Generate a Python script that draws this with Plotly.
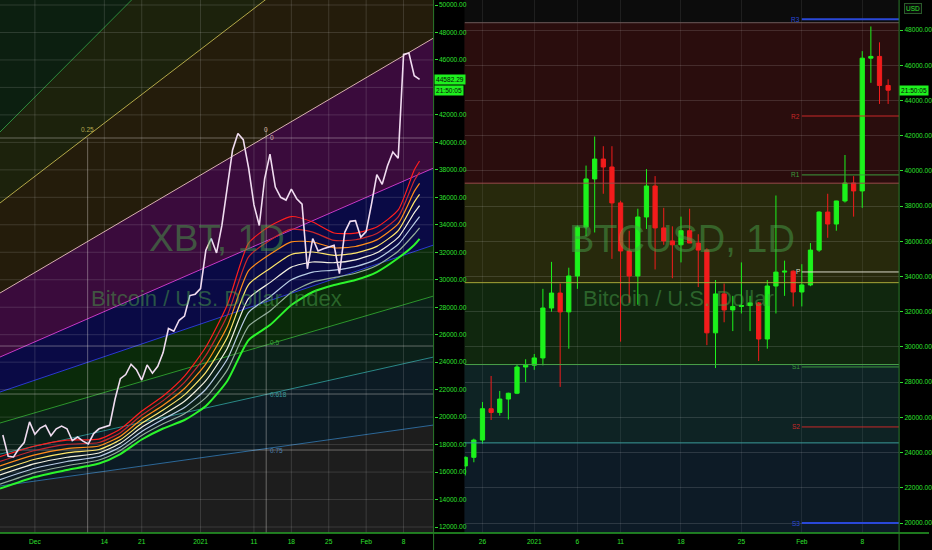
import plotly.graph_objects as go
import pandas as pd

# ---------------- LEFT PANEL : XBT index (daily closes) ----------------
xbt_dates = pd.date_range("2020-11-25", "2021-02-11", freq="D")
xbt_close = [
    18700, 17150, 17100, 17700, 18150, 19650,
    18750, 19200, 19400, 18650, 19150, 19350, 19150, 18300, 18550, 18250, 18050, 18800, 19150, 19250,
    19400, 21300, 22800, 23100, 23850, 23450, 22700, 23800, 23200, 23700, 24700, 26450, 26250, 27050,
    27350, 28850, 28950,
    29350, 32150, 33000, 31950, 33950, 36800, 39450, 40650, 40200, 38150, 35450, 33950, 37350, 39150,
    36750, 36000, 35800, 36600, 35900, 35500, 30800, 33000, 32100, 32250, 32400, 32500, 30450, 33450,
    34250, 34300, 33100,
    33500, 35500, 37650, 36950, 38300, 39300, 38850, 46400, 46500, 44850, 44582.29,
]

ribbon_dates = ["2020-11-24 11:00", "2020-12-01", "2020-12-07", "2020-12-13", "2020-12-17", "2020-12-21",
                "2020-12-25", "2020-12-29", "2021-01-02", "2021-01-06", "2021-01-10", "2021-01-14",
                "2021-01-18", "2021-01-22", "2021-01-26", "2021-01-30", "2021-02-03", "2021-02-07",
                "2021-02-10", "2021-02-11"]
ribbon_1 = [17120, 17900, 18330, 18400, 19130, 20440, 21540, 22990, 25100, 28160, 32670, 33910, 34600, 34200, 33400, 33400, 33840, 35080, 37990, 38640]
ribbon_2 = [16780, 17570, 18020, 18150, 18870, 20150, 21200, 22530, 24490, 27370, 31670, 32880, 33680, 33470, 32860, 32910, 33370, 34580, 37210, 37830]
ribbon_3 = [16450, 17250, 17710, 17900, 18610, 19850, 20860, 22080, 23880, 26580, 30660, 31850, 32760, 32750, 32320, 32420, 32900, 34080, 36430, 37020]
ribbon_4 = [16120, 16930, 17400, 17640, 18350, 19550, 20520, 21620, 23260, 25790, 29650, 30820, 31840, 32020, 31780, 31940, 32430, 33580, 35650, 36210]
ribbon_5 = [15790, 16610, 17080, 17390, 18090, 19260, 20180, 21160, 22650, 25000, 28640, 29790, 30920, 31290, 31240, 31450, 31970, 33080, 34870, 35400]
ribbon_6 = [15450, 16280, 16770, 17130, 17830, 18960, 19850, 20700, 22030, 24210, 27630, 28760, 30000, 30560, 30700, 30960, 31500, 32580, 34090, 34590]
ribbon_7 = [15120, 15960, 16460, 16880, 17570, 18660, 19510, 20250, 21420, 23420, 26620, 27730, 29080, 29830, 30160, 30470, 31030, 32080, 33310, 33780]
ribbon_8 = [14790, 15640, 16150, 16620, 17310, 18370, 19170, 19790, 20810, 22630, 25610, 26700, 28160, 29110, 29620, 29980, 30560, 31580, 32530, 32970]
ribbon_colors = ["#ff1e1e", "#c8282d", "#ff8c1a", "#ffe66b", "#f2f0e0", "#b8cce4", "#94ae9c", "#2cf52c"]

# fan (speed resistance) lines: value at left edge / right edge
fan_x = ["2020-11-24 11:17", "2021-02-13 15:00"]
fan_top_green = [40754, 72422]
fan_025 = [35586, 59755]
fan_0 = [29034, 47598]
fan_magenta = [24374, 38134]
fan_blue = [21826, 32528]
fan_05 = [19570, 28815]
fan_0618 = [17313, 24374]
fan_075 = [14983, 19424]
fan_level_prices = [40318, 25175, 21681, 17604]
fan_vertical_dates = ["2020-12-10 21:00", "2021-01-13 07:00"]
fan_vertical_tops = [40300, 41000]

left_price_ticks = [12000, 14000, 16000, 18000, 20000, 22000, 24000, 26000, 28000, 30000, 32000,
                    34000, 36000, 38000, 40000, 42000, 44000, 46000, 48000, 50000]
# 44000 label is hidden behind the last-price box in the reference
left_price_labels = ["12000.00", "14000.00", "16000.00", "18000.00", "20000.00", "22000.00", "24000.00",
                     "26000.00", "28000.00", "30000.00", "32000.00", "34000.00", "36000.00", "38000.00",
                     "40000.00", "42000.00", "", "46000.00", "48000.00", "50000.00"]
left_date_ticks = ["2020-12-01", "2020-12-14", "2020-12-21", "2021-01-01", "2021-01-11",
                   "2021-01-18", "2021-01-25", "2021-02-01", "2021-02-08"]
left_date_labels = ["Dec", "14", "21", "2021", "11", "18", "25", "Feb", "8"]

# ---------------- RIGHT PANEL : BTCUSD daily candles ----------------
candle_dates = pd.date_range("2020-12-24", "2021-02-11", freq="D")
btc_open = [23240, 23730, 24710, 26490, 26280, 27040, 27370, 28860, 28960, 29375, 32210, 33060, 31990,
            34030, 36810, 39540, 40670, 40220, 38180, 35450, 34030, 37380, 39140, 36760, 36020, 35800,
            36600, 35900, 35500, 30800, 33010, 32100, 32300, 32350, 32500, 30450, 33460, 34250, 34300,
            33120, 33520, 35500, 37660, 36980, 38290, 39310, 38860, 46400, 46500, 44850]
btc_high = [23780, 24790, 26870, 28350, 27500, 27400, 28990, 29300, 29600, 33300, 34830, 33600, 34500,
            36900, 40300, 41950, 41400, 41400, 38300, 36600, 37850, 40100, 39700, 37900, 36850, 37400,
            37850, 36400, 35600, 33800, 33600, 32900, 34800, 32900, 32550, 33800, 38600, 34900, 34350,
            34700, 35900, 37700, 38700, 38300, 40900, 39700, 46800, 48200, 47300, 45200]
btc_low = [22700, 23450, 24500, 25850, 26100, 25880, 27320, 28000, 28700, 28950, 32000, 27730, 29900,
           33300, 36300, 36500, 38700, 35000, 30300, 32500, 32400, 36700, 34400, 35800, 33900, 34800,
           35900, 33400, 30100, 28800, 31400, 30900, 31900, 30900, 29200, 29900, 31900, 32900, 32300,
           32300, 33450, 35400, 36200, 36600, 38200, 37400, 37900, 45000, 43800, 43800]
btc_close = [23730, 24710, 26490, 26280, 27040, 27370, 28860, 28960, 29375, 32210, 33060, 31990, 34030,
             36810, 39540, 40670, 40220, 38180, 35450, 34030, 37380, 39140, 36760, 36020, 35800, 36600,
             35900, 35500, 30800, 33010, 32100, 32300, 32350, 32500, 30450, 33460, 34250, 34300, 33120,
             33520, 35500, 37660, 36980, 38290, 39310, 38860, 46400, 46500, 44850, 44582.29]

fib_levels = [48414, 39300, 33650, 29000, 24550, 0]
fib_zone_colors = ["#2a0d0d", "#27290c", "#10270e", "#0e2324", "#0d1b26"]
fib_line_colors = ["#6e5a5a", "#9a4a4a", "#a8a838", "#4aa04a", "#3a9a9a"]

pivot_start = "2021-02-01"
pivot_names = ["R3", "R2", "R1", "P", "S1", "S2", "S3"]
pivot_values = [48610, 43116, 39770, 34258, 28863, 25455, 20000]
pivot_colors = ["#2a48d8", "#c82828", "#3c9c3c", "#d8d8c8", "#3c9c3c", "#c82828", "#2a48d8"]

right_price_ticks = [20000, 22000, 24000, 26000, 28000, 30000, 32000, 34000, 36000, 38000, 40000,
                     42000, 44000, 46000, 48000]
right_date_ticks = ["2020-12-26", "2021-01-01", "2021-01-06", "2021-01-11", "2021-01-18",
                    "2021-01-25", "2021-02-01", "2021-02-08"]
right_date_labels = ["26", "2021", "6", "11", "18", "25", "Feb", "8"]

last_price = 44582.29
clock_text = "21:50:05"

# ---------------- layout geometry ----------------
W, H = 932, 550
LEFT_X = fan_x
LEFT_Y = [11564, 50364]
RIGHT_X = ["2020-12-23 22:00", "2021-02-12 06:30"]
RIGHT_Y = [19432, 49704]
dom_left = [0, 435 / W]
dom_right = [466 / W, 902 / W]
dom_y = [17 / H, 1]
GREEN = "#2fe02f"
FONT = "Liberation Sans, Arial, sans-serif"
TICKFONT = dict(family=FONT, size=6.6, color=GREEN)
WM = "rgba(72,160,72,0.5)"

fig = go.Figure()

# --- left background bands (stacked fills between fan lines)
bands = [
    ([0, 0], None, None),
    (fan_075, "#2d6898", "#1d1d1d"),
    (fan_0618, "#2a8888", "#0c1b24"),
    (fan_05, "#2c962c", "#0b2019"),
    (fan_blue, "#2a3ad0", "#0a2a0a"),
    (fan_magenta, "#c838c8", "#0a0a45"),
    (fan_0, "#d8b0b0", "#3a0b3c"),
    (fan_025, "#b4a848", "#241c0b"),
    (fan_top_green, "#2e8e3e", "#1c220c"),
    ([200000, 200000], None, "#0c1f10"),
]
for i, (vals, lc, fc) in enumerate(bands):
    fig.add_trace(go.Scatter(
        x=fan_x, y=vals, mode="lines", xaxis="x", yaxis="y",
        line=dict(color=lc if lc else "rgba(0,0,0,0)", width=1),
        fill=None if i == 0 else "tonexty", fillcolor=fc,
        hoverinfo="skip", showlegend=False))

# --- left grid lines
gx, gy = [], []
for v in left_price_ticks:
    gx += [LEFT_X[0], LEFT_X[1], None]
    gy += [v, v, None]
for d in left_date_ticks:
    gx += [d, d, None]
    gy += [LEFT_Y[0], LEFT_Y[1], None]
fig.add_trace(go.Scatter(x=gx, y=gy, mode="lines", xaxis="x", yaxis="y",
                         line=dict(color="rgba(220,220,220,0.16)", width=1),
                         hoverinfo="skip", showlegend=False))
# fan grid
fx, fy = [], []
for v in fan_level_prices:
    fx += [LEFT_X[0], LEFT_X[1], None]
    fy += [v, v, None]
for d, t in zip(fan_vertical_dates, fan_vertical_tops):
    fx += [d, d, None]
    fy += [LEFT_Y[0], t, None]
fig.add_trace(go.Scatter(x=fx, y=fy, mode="lines", xaxis="x", yaxis="y",
                         line=dict(color="rgba(235,230,225,0.38)", width=1),
                         hoverinfo="skip", showlegend=False))

# --- ribbons
ribbons = [ribbon_1, ribbon_2, ribbon_3, ribbon_4, ribbon_5, ribbon_6, ribbon_7, ribbon_8]
for k, (r, c) in enumerate(zip(ribbons, ribbon_colors)):
    fig.add_trace(go.Scatter(x=ribbon_dates, y=r, mode="lines", xaxis="x", yaxis="y",
                             line=dict(color=c, width=2 if k == 7 else 1.2, shape="spline", smoothing=0.6),
                             hoverinfo="skip", showlegend=False))

# --- XBT close line
fig.add_trace(go.Scatter(x=xbt_dates, y=xbt_close, mode="lines", xaxis="x", yaxis="y",
                         line=dict(color="#f0dcf0", width=1.6), showlegend=False))

# --- right panel: fib zone boundary lines and pivot lines
for v, lc in zip(fib_levels[:-1], fib_line_colors):
    fig.add_trace(go.Scatter(x=RIGHT_X, y=[v, v], mode="lines", xaxis="x2", yaxis="y2",
                             line=dict(color=lc, width=1), hoverinfo="skip", showlegend=False))
for name, v, c in zip(pivot_names, pivot_values, pivot_colors):
    fig.add_trace(go.Scatter(x=[pivot_start, RIGHT_X[1]], y=[v, v], mode="lines",
                             xaxis="x2", yaxis="y2",
                             line=dict(color=c, width=2 if name in ("R3", "S3") else 1),
                             hoverinfo="skip", showlegend=False))

# --- candles
fig.add_trace(go.Candlestick(
    x=candle_dates, open=btc_open, high=btc_high, low=btc_low, close=btc_close,
    xaxis="x2", yaxis="y2",
    increasing=dict(fillcolor="#1cf21c", line=dict(color="#1cf21c", width=1)),
    decreasing=dict(fillcolor="#f21c1c", line=dict(color="#f21c1c", width=1)),
    whiskerwidth=0, showlegend=False))

# --- shapes
shapes = []
for i, fc in enumerate(fib_zone_colors):
    shapes.append(dict(type="rect", xref="x2 domain", yref="y2", x0=0, x1=1,
                       y0=fib_levels[i + 1], y1=fib_levels[i], fillcolor=fc,
                       line=dict(width=0), layer="below"))
# frame lines
shapes.append(dict(type="line", xref="paper", yref="paper", x0=0, x1=1, y0=dom_y[0], y1=dom_y[0],
                   line=dict(color="#27a027", width=1.5)))
for xx in (dom_left[1], dom_right[1]):
    shapes.append(dict(type="line", xref="paper", yref="paper", x0=xx, x1=xx, y0=0, y1=1,
                       line=dict(color="#2a7a2a", width=1)))

# --- annotations
ann = []
wm_common = dict(xref="paper", yref="paper", showarrow=False, xanchor="center", yanchor="middle")
ann.append(dict(text="XBT, 1D", x=218 / W, y=1 - 238 / H, font=dict(family=FONT, size=37, color=WM), **wm_common))
ann.append(dict(text="Bitcoin / U.S. Dollar Index", x=217 / W, y=1 - 299 / H,
                font=dict(family=FONT, size=22, color=WM), **wm_common))
ann.append(dict(text="BTCUSD, 1D", x=684 / W, y=1 - 239 / H, font=dict(family=FONT, size=38, color=WM), **wm_common))
ann.append(dict(text="Bitcoin / U.S. Dollar", x=681 / W, y=1 - 299 / H,
                font=dict(family=FONT, size=22, color=WM), **wm_common))

fan_labels = [("0.25", fan_vertical_dates[0], 40936, "#b4a850", "center"),
              ("0", fan_vertical_dates[1], 40973, "#d8b8a8", "center"),
              ("0", fan_vertical_dates[1], 40340, "#d8b8a8", "left"),
              ("0.5", fan_vertical_dates[1], 25400, "#3aa03a", "left"),
              ("0.618", fan_vertical_dates[1], 21681, "#3a9a9a", "left"),
              ("0.75", fan_vertical_dates[1], 17604, "#4a80b0", "left")]
for t, d, v, c, xa in fan_labels:
    ann.append(dict(text=t, x=d, y=v, xref="x", yref="y", showarrow=False, xanchor=xa, yanchor="middle",
                    xshift=2 if xa == "left" else 0,
                    font=dict(family=FONT, size=6.5, color=c)))

for name, v, c in zip(pivot_names, pivot_values, pivot_colors):
    ann.append(dict(text=name, x=pivot_start, y=v, xref="x2", yref="y2", showarrow=False,
                    xanchor="right", yanchor="middle", font=dict(family=FONT, size=6.5, color=c)))

box = dict(bgcolor="#1ef01e", borderpad=1, showarrow=False, xanchor="left", yanchor="middle",
           font=dict(family=FONT, size=6.6, color="#0a0a0a"))
ann.append(dict(text=f"{last_price:.2f}", x=dom_left[1], y=last_price, xref="paper", yref="y", **box))
ann.append(dict(text=clock_text, x=dom_left[1], y=last_price, xref="paper", yref="y", yshift=-11, **box))
ann.append(dict(text=clock_text, x=dom_right[1], y=last_price, xref="paper", yref="y2", **box))
ann.append(dict(text="USD", x=916 / W, y=1 - 8.5 / H, xref="paper", yref="paper", showarrow=False,
                xanchor="center", yanchor="middle",
                bgcolor="#0a0a0a", bordercolor="#2a5a2a", borderwidth=1, borderpad=1,
                font=dict(family=FONT, size=6.5, color=GREEN)))

axis_common = dict(showline=False, zeroline=False, tickfont=TICKFONT)
fig.update_layout(
    width=W, height=H, margin=dict(l=0, r=0, t=0, b=0),
    paper_bgcolor="#000000", plot_bgcolor="#0c0c0c", showlegend=False,
    shapes=shapes, annotations=ann,
    xaxis=dict(domain=dom_left, anchor="y", type="date", range=LEFT_X, showgrid=False,
               tickvals=left_date_ticks, ticktext=left_date_labels, ticks="",
               ticklabelstandoff=3, **axis_common),
    yaxis=dict(domain=dom_y, anchor="x", side="right", range=LEFT_Y, showgrid=False,
               tickvals=left_price_ticks, ticktext=left_price_labels, ticks="outside", ticklen=3,
               tickcolor=GREEN, **axis_common),
    xaxis2=dict(domain=dom_right, anchor="y2", type="date", range=RIGHT_X, showgrid=True,
                gridcolor="rgba(255,255,255,0.08)", rangeslider=dict(visible=False),
                tickvals=right_date_ticks, ticktext=right_date_labels, ticks="",
                ticklabelstandoff=3, **axis_common),
    yaxis2=dict(domain=dom_y, anchor="x2", side="right", range=RIGHT_Y, showgrid=True,
                gridcolor="rgba(255,255,255,0.13)", tickvals=right_price_ticks, tickformat=".2f",
                ticks="outside", ticklen=3, tickcolor=GREEN, **axis_common),
)

fig.write_html("out.html", config={"displayModeBar": False},
               post_script="document.body.style.margin='0';document.body.style.padding='0';")
